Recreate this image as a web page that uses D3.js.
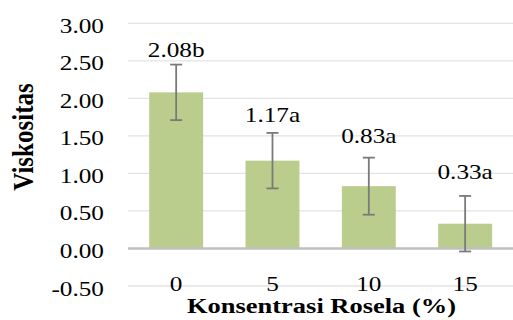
<!DOCTYPE html>
<html><head><meta charset="utf-8">
<script src="https://cdn.jsdelivr.net/npm/d3@7"></script>
<style>
html,body{margin:0;padding:0;background:#fff;overflow:hidden}
</style>
</head><body><svg id="c" width="513" height="320"></svg>
<script>
const categories = ["0", "5", "10", "15"];
const values = [2.08, 1.17, 0.83, 0.33];
const errors = [0.37, 0.37, 0.38, 0.37];
const labels = ["2.08b", "1.17a", "0.83a", "0.33a"];
const yTicks = [-0.5, 0, 0.5, 1, 1.5, 2, 2.5, 3];
const yTickLabels = ["-0.50", "0.00", "0.50", "1.00", "1.50", "2.00", "2.50", "3.00"];
const xTitle = "Konsentrasi Rosela (%)";
const yTitle = "Viskositas";

const SX = 1.22; // horizontal stretch of the text in the reference
const FONT = '"Liberation Serif"';
const svg = d3.select("#c");
const plot = {left: 128, right: 513.3, top: 23.3, bottom: 286};

const x = d3.scaleBand().domain(categories).range([plot.left, plot.right]).padding(0);
const y = d3.scaleLinear().domain([-0.5, 3]).range([plot.bottom, plot.top]);
const barW = x.bandwidth() * 0.56;

// gridlines
svg.append("g").selectAll("line").data(yTicks.filter(d => d !== 0)).join("line")
  .attr("x1", plot.left).attr("x2", plot.right)
  .attr("y1", d => y(d)).attr("y2", d => y(d))
  .attr("stroke", "#e3e3e3").attr("stroke-width", 1.3);

// bars
svg.append("g").selectAll("rect").data(values).join("rect")
  .attr("x", (d, i) => x(categories[i]) + (x.bandwidth() - barW) / 2)
  .attr("width", barW)
  .attr("y", d => y(Math.max(d, 0)))
  .attr("height", d => Math.abs(y(d) - y(0)))
  .attr("fill", "#bacd8c");

// zero axis line
svg.append("line").attr("x1", plot.left).attr("x2", plot.right)
  .attr("y1", y(0)).attr("y2", y(0))
  .attr("stroke", "#bfbfbf").attr("stroke-width", 2.5);

// error bars
const eg = svg.append("g").attr("stroke", "#7a7a7a").attr("stroke-width", 1.8);
values.forEach((v, i) => {
  const cx = x(categories[i]) + x.bandwidth() / 2;
  const hi = y(v + errors[i]), lo = y(v - errors[i]);
  eg.append("line").attr("x1", cx).attr("x2", cx).attr("y1", hi).attr("y2", lo);
  eg.append("line").attr("x1", cx - 6).attr("x2", cx + 6).attr("y1", hi).attr("y2", hi);
  eg.append("line").attr("x1", cx - 6).attr("x2", cx + 6).attr("y1", lo).attr("y2", lo);
});

// y axis (labels only)
const yAxis = d3.axisLeft(y).tickValues(yTicks)
  .tickFormat((d, i) => yTickLabels[i]).tickSize(0);
const ya = svg.append("g").attr("transform", `translate(${plot.left},0)`).call(yAxis);
ya.attr("font-family", null).attr("font-size", null);
ya.select(".domain").remove();
ya.selectAll("text")
  .attr("x", 0).attr("dy", null).attr("y", 0)
  .attr("transform", `translate(-24,9) scale(${SX},1)`)
  .attr("text-anchor", "end")
  .style("font-family", FONT).style("font-size", "20.7px").attr("fill", "#000");

// x axis (labels only)
const xAxis = d3.axisBottom(x).tickSize(0);
const xa = svg.append("g").attr("transform", `translate(0,290.5)`).call(xAxis);
xa.attr("font-family", null).attr("font-size", null);
xa.select(".domain").remove();
xa.selectAll("text")
  .attr("y", 0).attr("dy", null)
  .attr("transform", `scale(${SX},1)`)
  .attr("x", 0)
  .attr("text-anchor", "middle")
  .style("font-family", FONT).style("font-size", "20.7px").attr("fill", "#000");

// data labels
const labelLift = [35, 38.8, 43.3, 44.5];
svg.append("g").selectAll("text").data(labels).join("text")
  .attr("transform", (d, i) => `translate(${x(categories[i]) + x.bandwidth() / 2},${y(values[i]) - labelLift[i]}) scale(${SX},1)`)
  .attr("text-anchor", "middle")
  .style("font-family", FONT).style("font-size", "20.7px").attr("fill", "#000")
  .text(d => d);

// axis titles
svg.append("text")
  .attr("transform", `translate(321.5,313.3) scale(${SX},1)`)
  .attr("text-anchor", "middle")
  .style("font-family", FONT).style("font-size", "21.7px").style("font-weight", "bold")
  .text(xTitle);

svg.append("text")
  .attr("transform", `translate(33.3,137) scale(${SX},1) rotate(-90)`)
  .attr("text-anchor", "middle")
  .style("font-family", FONT).style("font-size", "25px").style("font-weight", "bold")
  .text(yTitle);
</script>
</body></html>
